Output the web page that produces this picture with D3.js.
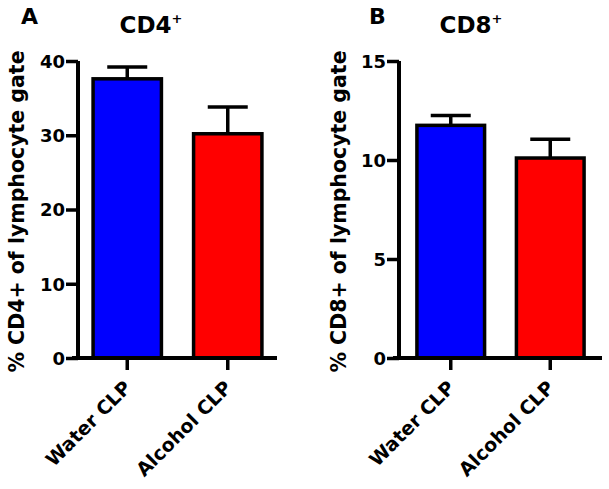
<!DOCTYPE html>
<html><head><meta charset="utf-8">
<script src="https://cdn.jsdelivr.net/npm/d3@7"></script>
<style>body{margin:0;background:#fff}svg{display:block}text{font-family:"DejaVu Sans",Arial,sans-serif;font-weight:bold}</style>
</head><body>
<svg id="c" width="609" height="489"></svg>
<script>
const categories = ["Water CLP", "Alcohol CLP"];
const colors = ["#0000ff", "#ff0000"];
const cd4Means = [37.6, 30.2];
const cd4Errors = [1.6, 3.6];
const cd4Ticks = [0, 10, 20, 30, 40];
const cd8Means = [11.75, 10.1];
const cd8Errors = [0.5, 0.95];
const cd8Ticks = [0, 5, 10, 15];

const svg = d3.select("#c");

function panel(opts) {
  const g = svg.append("g");
  const y = d3.scaleLinear().domain([0, opts.max]).range([358, 61]);
  const x = d3.scaleBand().domain(categories).range([opts.x0, opts.x1]).paddingInner(0.32).paddingOuter(opts.po);
  // bars
  g.selectAll("rect.bar").data(opts.means).join("rect")
    .attr("x", (d, i) => x(categories[i]))
    .attr("width", x.bandwidth())
    .attr("y", d => y(d))
    .attr("height", d => y(0) - y(d))
    .attr("fill", (d, i) => colors[i])
    .attr("stroke", "#000").attr("stroke-width", 3.5);
  // error bars
  opts.means.forEach((m, i) => {
    const cx = x(categories[i]) + x.bandwidth() / 2;
    g.append("line").attr("x1", cx).attr("x2", cx).attr("y1", y(m)).attr("y2", y(m + opts.errors[i]))
      .attr("stroke", "#000").attr("stroke-width", 3.5);
    g.append("line").attr("x1", cx - 20).attr("x2", cx + 20).attr("y1", y(m + opts.errors[i])).attr("y2", y(m + opts.errors[i]))
      .attr("stroke", "#000").attr("stroke-width", 3.5);
  });
  // y axis
  const ya = g.append("g").attr("transform", `translate(${opts.x0},0)`)
    .call(d3.axisLeft(y).tickValues(opts.ticks).tickSize(12).tickPadding(1));
  ya.select(".domain").attr("d", `M0,${y(opts.max)}V${y(0)}`).attr("stroke", "#000").attr("stroke-width", 4);
  ya.selectAll(".tick line").attr("stroke", "#000").attr("stroke-width", 3.5);
  ya.selectAll(".tick text").attr("font-size", 18).attr("fill", "#000").attr("dy", "0.36em");
  // x axis
  const xa = g.append("g").attr("transform", `translate(0,${y(0)})`)
    .call(d3.axisBottom(x).tickSize(12).tickSizeOuter(0).tickPadding(4));
  xa.select(".domain").attr("d", `M${opts.x0 - 6},0H${opts.x1}`).attr("stroke", "#000").attr("stroke-width", 4);
  xa.selectAll(".tick line").attr("stroke", "#000").attr("stroke-width", 3.5);
  xa.selectAll(".tick text").attr("font-size", 19).attr("fill", "#000")
    .attr("text-anchor", "end").attr("x", 0).attr("y", 0).attr("dy", 0)
    .attr("transform", "translate(5,31) rotate(-45)");
  // y label
  g.append("text").attr("transform", `translate(${opts.labelX},${(y(0) + y(opts.max)) / 2 + 2}) rotate(-90)`)
    .attr("text-anchor", "middle").attr("font-size", 20.5).text(opts.ylabel);
  // title
  const t = g.append("text").attr("x", opts.titleX).attr("y", 33).attr("text-anchor", "middle").attr("font-size", 23);
  t.append("tspan").text(opts.title);
  t.append("tspan").attr("dy", -10).attr("font-size", 13).text("+");
  // panel letter
  g.append("text").attr("x", opts.letterX).attr("y", 24).attr("font-size", 22).text(opts.letter);
}

panel({x0: 78, x1: 277, po: 0.15, max: 40, means: cd4Means, errors: cd4Errors, ticks: cd4Ticks,
  ylabel: "% CD4+ of lymphocyte gate", labelX: 24, title: "CD4", titleX: 151, letter: "A", letterX: 21});
panel({x0: 399, x1: 602, po: 0.18, max: 15, means: cd8Means, errors: cd8Errors, ticks: cd8Ticks,
  ylabel: "% CD8+ of lymphocyte gate", labelX: 346, title: "CD8", titleX: 471, letter: "B", letterX: 369});
</script>
</body></html>
